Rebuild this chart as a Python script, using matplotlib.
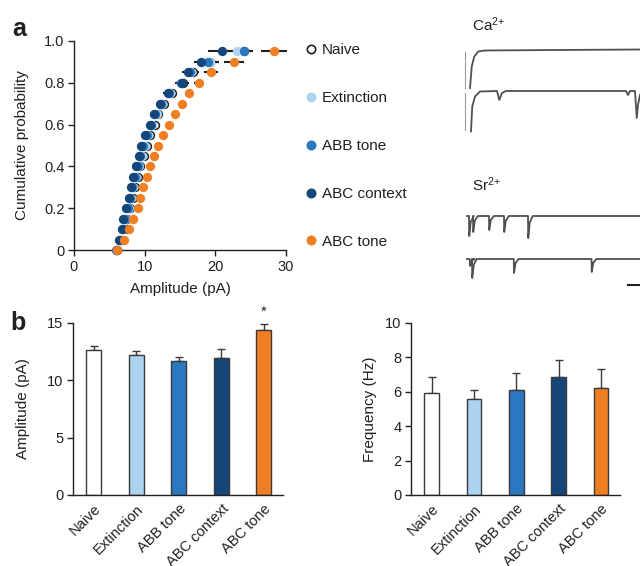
import matplotlib
matplotlib.use('Agg')

import matplotlib.pyplot as plt
from matplotlib.lines import Line2D
import numpy as np

plt.rcParams['font.family'] = ['Liberation Sans', 'DejaVu Sans']
plt.rcParams['mathtext.default'] = 'regular'
plt.rcParams['font.size'] = 10
plt.rcParams['text.color'] = '#231f20'
plt.rcParams['axes.labelcolor'] = '#231f20'
plt.rcParams['xtick.color'] = '#231f20'
plt.rcParams['ytick.color'] = '#231f20'

# ---- data ----
groups = ["Naive", "Extinction", "ABB tone", "ABC context", "ABC tone"]
colors = ["white", "#acd4f0", "#2a78c0", "#15467a", "#f07f24"]

# panel a: cumulative probability vs amplitude (pA)
cum_prob = [0, 0.05, 0.1, 0.15, 0.2, 0.25, 0.3, 0.35, 0.4, 0.45,
            0.5, 0.55, 0.6, 0.65, 0.7, 0.75, 0.8, 0.85, 0.9, 0.95]
amp_naive = [6.1, 6.8, 7.3, 7.5, 7.9, 8.3, 8.6, 9.0, 9.4, 9.9,
             10.3, 10.8, 11.4, 11.9, 12.7, 13.8, 15.4, 16.8, 19.3, 24.0]
amp_ext = [6.1, 6.6, 7.1, 7.4, 7.8, 8.1, 8.4, 8.8, 9.2, 9.6,
           10.0, 10.5, 11.1, 11.7, 12.4, 13.6, 15.2, 16.6, 19.2, 23.0]
amp_abb = [6.0, 6.5, 6.9, 7.2, 7.6, 7.9, 8.2, 8.6, 9.0, 9.4,
           9.8, 10.3, 10.9, 11.5, 12.3, 13.5, 15.2, 16.4, 19.0, 24.0]
amp_ctx = [6.1, 6.4, 6.75, 7.0, 7.4, 7.75, 8.0, 8.4, 8.8, 9.2,
           9.5, 10.1, 10.7, 11.3, 12.1, 13.3, 15.3, 16.2, 18.0, 20.9]
amp_tone = [6.1, 7.1, 7.8, 8.3, 9.0, 9.35, 9.8, 10.3, 10.8, 11.3,
            11.85, 12.6, 13.4, 14.3, 15.3, 16.3, 17.7, 19.4, 22.6, 28.3]
err_naive = [0, 0.1, 0.15, 0.15, 0.2, 0.2, 0.25, 0.25, 0.3, 0.3,
             0.35, 0.35, 0.4, 0.45, 0.5, 0.6, 0.8, 0.9, 1.2, 1.3]
err_ext = [0, 0.1, 0.1, 0.15, 0.15, 0.2, 0.2, 0.25, 0.25, 0.3,
           0.3, 0.35, 0.35, 0.4, 0.45, 0.5, 0.7, 0.8, 1.0, 1.2]
err_abb = [0, 0.1, 0.1, 0.15, 0.15, 0.2, 0.2, 0.25, 0.25, 0.3,
           0.3, 0.35, 0.35, 0.4, 0.45, 0.5, 0.7, 0.8, 1.1, 1.2]
err_ctx = [0, 0.1, 0.1, 0.15, 0.15, 0.2, 0.2, 0.25, 0.25, 0.3,
           0.3, 0.35, 0.4, 0.4, 0.5, 0.7, 1.0, 0.9, 1.0, 2.0]
err_tone = [0, 0.1, 0.15, 0.2, 0.2, 0.25, 0.25, 0.3, 0.3, 0.35,
            0.35, 0.4, 0.45, 0.5, 0.55, 0.6, 0.7, 1.0, 1.4, 1.8]

# panel b: bar means and SEM
amp_mean = [12.65, 12.2, 11.7, 11.97, 14.4]
amp_sem = [0.35, 0.35, 0.3, 0.78, 0.5]
freq_mean = [5.95, 5.6, 6.1, 6.87, 6.2]
freq_sem = [0.92, 0.53, 1.02, 0.95, 1.1]

# example traces: time (ms), current (pA) points, events = (time ms, amplitude pA)
ca1_t = [60, 67, 77, 93, 120, 400, 740]
ca1_i = [-76, -33, -13, -3, -1, 0, 1]
ca2_t = [64, 69, 80, 100, 168, 177, 188, 204, 684, 692, 700, 720, 727, 732, 740]
ca2_i = [-81, -31, -11, -1, 0, -18, -4, 0, 0, -8, 0, 0, -54, -28, -8]
sr1_events = [(57, -40), (73, -32), (137, -28), (197, -32), (293, -44)]
sr2_events = [(60, -14), (69, -38), (236, -28), (547, -26)]

# ---- figure ----
W, H = 640, 566
fig = plt.figure(figsize=(6.4, 5.66), dpi=100)


def px_axes(x0, y0, x1, y1):
    return fig.add_axes([x0 / W, 1 - y1 / H, (x1 - x0) / W, (y1 - y0) / H])


def style(ax):
    ax.spines['top'].set_visible(False)
    ax.spines['right'].set_visible(False)
    for s in ['left', 'bottom']:
        ax.spines[s].set_linewidth(1.0)
        ax.spines[s].set_color('#231f20')
    ax.tick_params(length=4, width=1.0, pad=3, labelsize=10.5)


# panel a
ax = px_axes(74, 41, 286, 250)
style(ax)
series = [
    (amp_naive, err_naive, "white", "#231f20"),
    (amp_ext, err_ext, colors[1], colors[1]),
    (amp_abb, err_abb, colors[2], colors[2]),
    (amp_ctx, err_ctx, colors[3], colors[3]),
    (amp_tone, err_tone, colors[4], colors[4]),
]
for xs, xe, fc, ec in series:
    ax.errorbar(xs, cum_prob, xerr=xe, fmt='none', ecolor='#231f20',
                elinewidth=1.5, capsize=0, zorder=2, clip_on=False)
for xs, xe, fc, ec in series:
    ax.plot(xs, cum_prob, 'o', ms=5.6, mfc=fc, mec=ec, mew=1.1,
            zorder=3, clip_on=False)
ax.set_xlim(0, 30)
ax.set_ylim(0, 1.0)
ax.set_xticks([0, 10, 20, 30])
ax.set_yticks([0, 0.2, 0.4, 0.6, 0.8, 1.0])
ax.set_yticklabels(["0", "0.2", "0.4", "0.6", "0.8", "1.0"])
ax.set_xlabel("Amplitude (pA)", fontsize=11, labelpad=6)
ax.set_ylabel("Cumulative probability", fontsize=11, labelpad=11)

handles = [Line2D([], [], ls='none', marker='o', ms=6.0, mfc=fc, mec=ec, mew=1.2)
           for _, _, fc, ec in series]
fig.legend(handles, groups, loc='center left', bbox_to_anchor=(306 / W, 1 - 146 / H),
           frameon=False, fontsize=11, labelspacing=2.22, handlelength=0.7,
           handletextpad=0.35, borderpad=0, borderaxespad=0)

# traces
tax = px_axes(455, 0, 640, 300)
tax.axis('off')
tax.set_xlim(0, 740)
tax.set_ylim(-600, 0)
tr_kw = dict(color='#505050', lw=1.3)


def event_trace(t0, t1, events):
    t = [t0]
    i = [0]
    for te, a in events:
        t += [te - 1, te, te + 6, te + 18]
        i += [0, a, a * 0.3, 0]
    t.append(t1)
    i.append(0)
    return np.array(t), np.array(i)


tax.plot(np.array(ca1_t), np.array(ca1_i) - 100, **tr_kw)
tax.plot([40, 40], [-104, -176], color='#9a9a9a', lw=0.8)
tax.plot(np.array(ca2_t), np.array(ca2_i) - 182, **tr_kw)
tax.plot([40, 40], [-186, -260], color='#9a9a9a', lw=0.8)
t, i = event_trace(48, 740, sr1_events)
tax.plot(t, i - 432, **tr_kw)
t, i = event_trace(48, 740, sr2_events)
tax.plot(t, i - 518, **tr_kw)
tax.plot([692, 740], [-570, -570], color='#231f20', lw=1.5)
tax.text(68, -62, "Ca$^{2{+}}$", fontsize=11, ha='left', va='baseline')
tax.text(68, -382, "Sr$^{2{+}}$", fontsize=11, ha='left', va='baseline')


# panel b
def bar_panel(ax, means, sems, ylim, yticks, ylabel, pad):
    style(ax)
    x = np.arange(len(groups))
    ax.bar(x, means, width=0.35, color=colors, edgecolor='#3a3a3a', linewidth=1.0, zorder=2)
    ax.errorbar(x, means, yerr=[np.zeros(len(sems)), sems], fmt='none',
                ecolor='#3a3a3a', elinewidth=1.0, capsize=3, capthick=1.0, zorder=1)
    ax.set_xlim(-0.49, 4.45)
    ax.set_ylim(*ylim)
    ax.set_yticks(yticks)
    ax.set_xticks(x)
    ax.set_xticklabels(groups, rotation=45, ha='right', rotation_mode='anchor')
    ax.tick_params(axis='x', length=0, pad=5)
    ax.set_ylabel(ylabel, fontsize=11, labelpad=pad)


bax1 = px_axes(73, 323, 283, 495)
bar_panel(bax1, amp_mean, amp_sem, (0, 15), [0, 5, 10, 15], "Amplitude (pA)", 12)
bax1.text(4, amp_mean[4] + amp_sem[4] + 0.5, "*", ha='center', va='bottom', fontsize=11)

bax2 = px_axes(411, 323, 620, 495)
bar_panel(bax2, freq_mean, freq_sem, (0, 10), [0, 2, 4, 6, 8, 10], "Frequency (Hz)", 6)

fig.text(12 / W, 1 - 36 / H, "a", fontsize=18, fontweight='bold', ha='left', va='baseline')
fig.text(10 / W, 1 - 330 / H, "b", fontsize=18, fontweight='bold', ha='left', va='baseline')

fig.savefig("out.png", dpi=100)
